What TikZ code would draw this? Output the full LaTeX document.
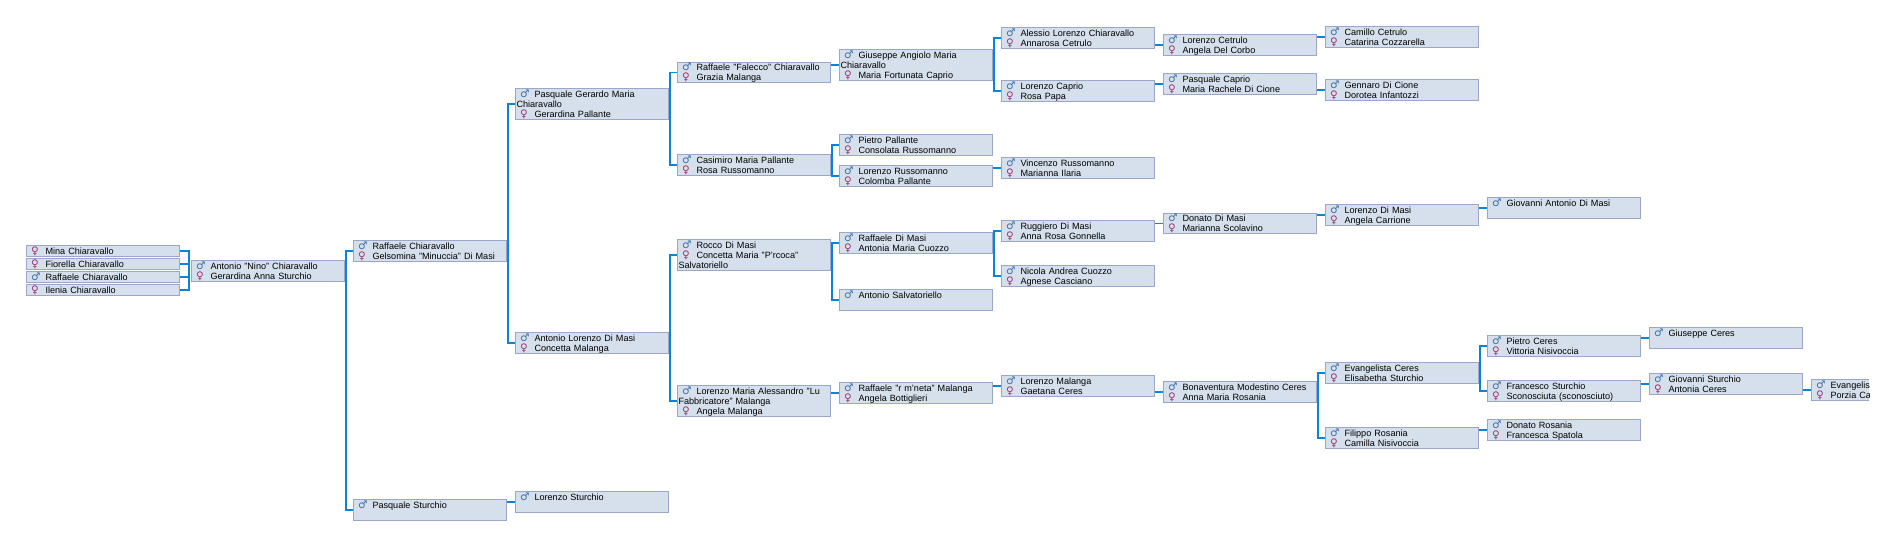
\documentclass[tikz,border=0pt]{standalone}
\usepackage{fontspec}
\setmainfont[WordSpace=1.35]{Liberation Sans}
\newfontfamily\symbfont{DejaVu Sans}
\usetikzlibrary{calc}
\definecolor{BoxFill}{HTML}{D6E0EC}
\definecolor{BoxLine}{HTML}{9AA6CC}
\definecolor{LinkBlue}{HTML}{0A84D6}
\definecolor{ManBlue}{HTML}{3A6EA5}
\definecolor{WomanRed}{HTML}{A03070}
\newcommand{\man}{\strut\hspace*{3.5pt}\smash{\makebox[14.5pt][l]{\textcolor{ManBlue}{\symbfont\fontsize{10.5}{10}\selectfont ♂}}}}
\newcommand{\woman}{\strut\hspace*{3.5pt}\smash{\makebox[14.5pt][l]{\textcolor{WomanRed}{\symbfont\fontsize{10.5}{10}\selectfont ♀}}}}
\tikzset{
  person/.style={draw=BoxLine, fill=BoxFill, line width=1pt, anchor=north west,
    text width=151pt, inner xsep=1pt, inner ysep=1.7pt, align=left,
    xshift=-0.5pt, yshift=0.4pt,
    execute at end node={\vspace{-3pt}},
    font=\fontsize{9.1}{10}\selectfont},
  link/.style={draw=LinkBlue, line width=1.6pt}
}

\begin{document}
\begin{tikzpicture}[x=1pt, y=-1pt]
  \useasboundingbox (0,0) rectangle (1894,547);
  % Children
  \node[person] (mina) at (26.5,245.5) {\woman Mina Chiaravallo};
  \node[person] (fiorella) at (26.5,258.5) {\woman Fiorella Chiaravallo};
  \node[person] (raffaelec) at (26.5,271.5) {\man Raffaele Chiaravallo};
  \node[person] (ilenia) at (26.5,284.5) {\woman Ilenia Chiaravallo};
  \node[person] (nino) at (191.5,260.5) {\man Antonio "Nino" Chiaravallo\\\woman Gerardina Anna Sturchio};

  % Grandparents side
  \node[person] (raffaele) at (353.5,240.5) {\man Raffaele Chiaravallo\\\woman Gelsomina "Minuccia" Di Masi};
  \node[person] (pasquales) at (353.5,499.5) {\man Pasquale Sturchio\\\strut};

  \node[person] (gerardo) at (515.5,88.5) {\man Pasquale Gerardo Maria\\\strut Chiaravallo\\\woman Gerardina Pallante};
  \node[person] (antoniol) at (515.5,332.5) {\man Antonio Lorenzo Di Masi\\\woman Concetta Malanga};
  \node[person] (lorenzos) at (515.5,491.5) {\man Lorenzo Sturchio\\\strut};

  \node[person] (falecco) at (677.5,62) {\man Raffaele "Falecco" Chiaravallo\\\woman Grazia Malanga};
  \node[person] (casimiro) at (677.5,154.5) {\man Casimiro Maria Pallante\\\woman Rosa Russomanno};
  \node[person] (rocco) at (677.5,239.5) {\man Rocco Di Masi\\\woman Concetta Maria "P'rcoca"\\\strut Salvatoriello};
  \node[person] (lorenzom) at (677.5,385.5) {\man Lorenzo Maria Alessandro "Lu\\\strut Fabbricatore" Malanga\\\woman Angela Malanga};

  \node[person] (giuseppe) at (839.5,49.5) {\man Giuseppe Angiolo Maria\\\strut Chiaravallo\\\woman Maria Fortunata Caprio};
  \node[person] (pietrop) at (839.5,134.5) {\man Pietro Pallante\\\woman Consolata Russomanno};
  \node[person] (lorenzor) at (839.5,165.5) {\man Lorenzo Russomanno\\\woman Colomba Pallante};
  \node[person] (raffaeled) at (839.5,232.5) {\man Raffaele Di Masi\\\woman Antonia Maria Cuozzo};
  \node[person] (antonios) at (839.5,289.5) {\man Antonio Salvatoriello\\\strut};
  \node[person] (raffaeler) at (839.5,382.5) {\man Raffaele "r m'neta" Malanga\\\woman Angela Bottiglieri};

  \node[person] (alessio) at (1001.5,27.5) {\man Alessio Lorenzo Chiaravallo\\\woman Annarosa Cetrulo};
  \node[person] (lorenzoc) at (1001.5,80.5) {\man Lorenzo Caprio\\\woman Rosa Papa};
  \node[person] (vincenzo) at (1001.5,157.5) {\man Vincenzo Russomanno\\\woman Marianna Ilaria};
  \node[person] (ruggiero) at (1001.5,220.5) {\man Ruggiero Di Masi\\\woman Anna Rosa Gonnella};
  \node[person] (nicola) at (1001.5,265.5) {\man Nicola Andrea Cuozzo\\\woman Agnese Casciano};
  \node[person] (lorenzoma) at (1001.5,375.5) {\man Lorenzo Malanga\\\woman Gaetana Ceres};

  \node[person] (lorenzoce) at (1163.5,34.5) {\man Lorenzo Cetrulo\\\woman Angela Del Corbo};
  \node[person] (pasqualec) at (1163.5,73.5) {\man Pasquale Caprio\\\woman Maria Rachele Di Cione};
  \node[person] (donatod) at (1163.5,213) {\man Donato Di Masi\\\woman Marianna Scolavino};
  \node[person] (bonaventura) at (1163.5,381.5) {\man Bonaventura Modestino Ceres\\\woman Anna Maria Rosania};

  \node[person] (camillo) at (1325.5,26.5) {\man Camillo Cetrulo\\\woman Catarina Cozzarella};
  \node[person] (gennaro) at (1325.5,79.5) {\man Gennaro Di Cione\\\woman Dorotea Infantozzi};
  \node[person] (lorenzod) at (1325.5,204.5) {\man Lorenzo Di Masi\\\woman Angela Carrione};
  \node[person] (evangelista) at (1325.5,362.5) {\man Evangelista Ceres\\\woman Elisabetha Sturchio};
  \node[person] (filippo) at (1325.5,427.5) {\man Filippo Rosania\\\woman Camilla Nisivoccia};

  \node[person] (giovannia) at (1487.5,197.5) {\man Giovanni Antonio Di Masi\\\strut};
  \node[person] (pietroc) at (1487.5,335.5) {\man Pietro Ceres\\\woman Vittoria Nisivoccia};
  \node[person] (francesco) at (1487.5,380.5) {\man Francesco Sturchio\\\woman Sconosciuta (sconosciuto)};
  \node[person] (donator) at (1487.5,419.5) {\man Donato Rosania\\\woman Francesca Spatola};

  \node[person] (giuseppec) at (1649.5,327.5) {\man Giuseppe Ceres\\\strut};
  \node[person] (giovannis) at (1649.5,373.5) {\man Giovanni Sturchio\\\woman Antonia Ceres};

  % Cut off at the right
  \begin{scope}
  \clip (0,0) rectangle (1869,547);
  \node[person] (evangelis) at (1811.5,379.5) {\man Evangelis\\\woman Porzia Ca};
  \end{scope}

  % Children to parents
  \coordinate (ninoin) at ([xshift=-2pt]nino.west);
  \draw[link] (mina.east) -| (ninoin) |- (ilenia.east);
  \draw[link] (fiorella.east) -- (fiorella.east -| ninoin);
  \draw[link] (raffaelec.east) -- (raffaelec.east -| ninoin);

  % Two parents
  \foreach \kid/\first/\second in {nino/raffaele/pasquales, raffaele/gerardo/antoniol,
      gerardo/falecco/casimiro, antoniol/rocco/lorenzom,
      casimiro/pietrop/lorenzor, rocco/raffaeled/antonios, giuseppe/alessio/lorenzoc,
      raffaeled/ruggiero/nicola, bonaventura/evangelista/filippo, evangelista/pietroc/francesco}
    \draw[link] (\first.west) -| ([xshift=1pt]\kid.east) |- (\second.west);

  % One parent
  \foreach \kid/\parent in {pasquales/lorenzos, falecco/giuseppe, lorenzom/raffaeler,
      raffaeler/lorenzoma, lorenzoma/bonaventura, lorenzor/vincenzo, alessio/lorenzoce,
      lorenzoc/pasqualec, lorenzoce/camillo, pasqualec/gennaro, ruggiero/donatod,
      donatod/lorenzod, lorenzod/giovannia, filippo/donator, pietroc/giuseppec,
      francesco/giovannis, giovannis/evangelis}
    \draw[link] (\kid.east |- \parent.west) -- (\parent.west);
\end{tikzpicture}
\end{document}
